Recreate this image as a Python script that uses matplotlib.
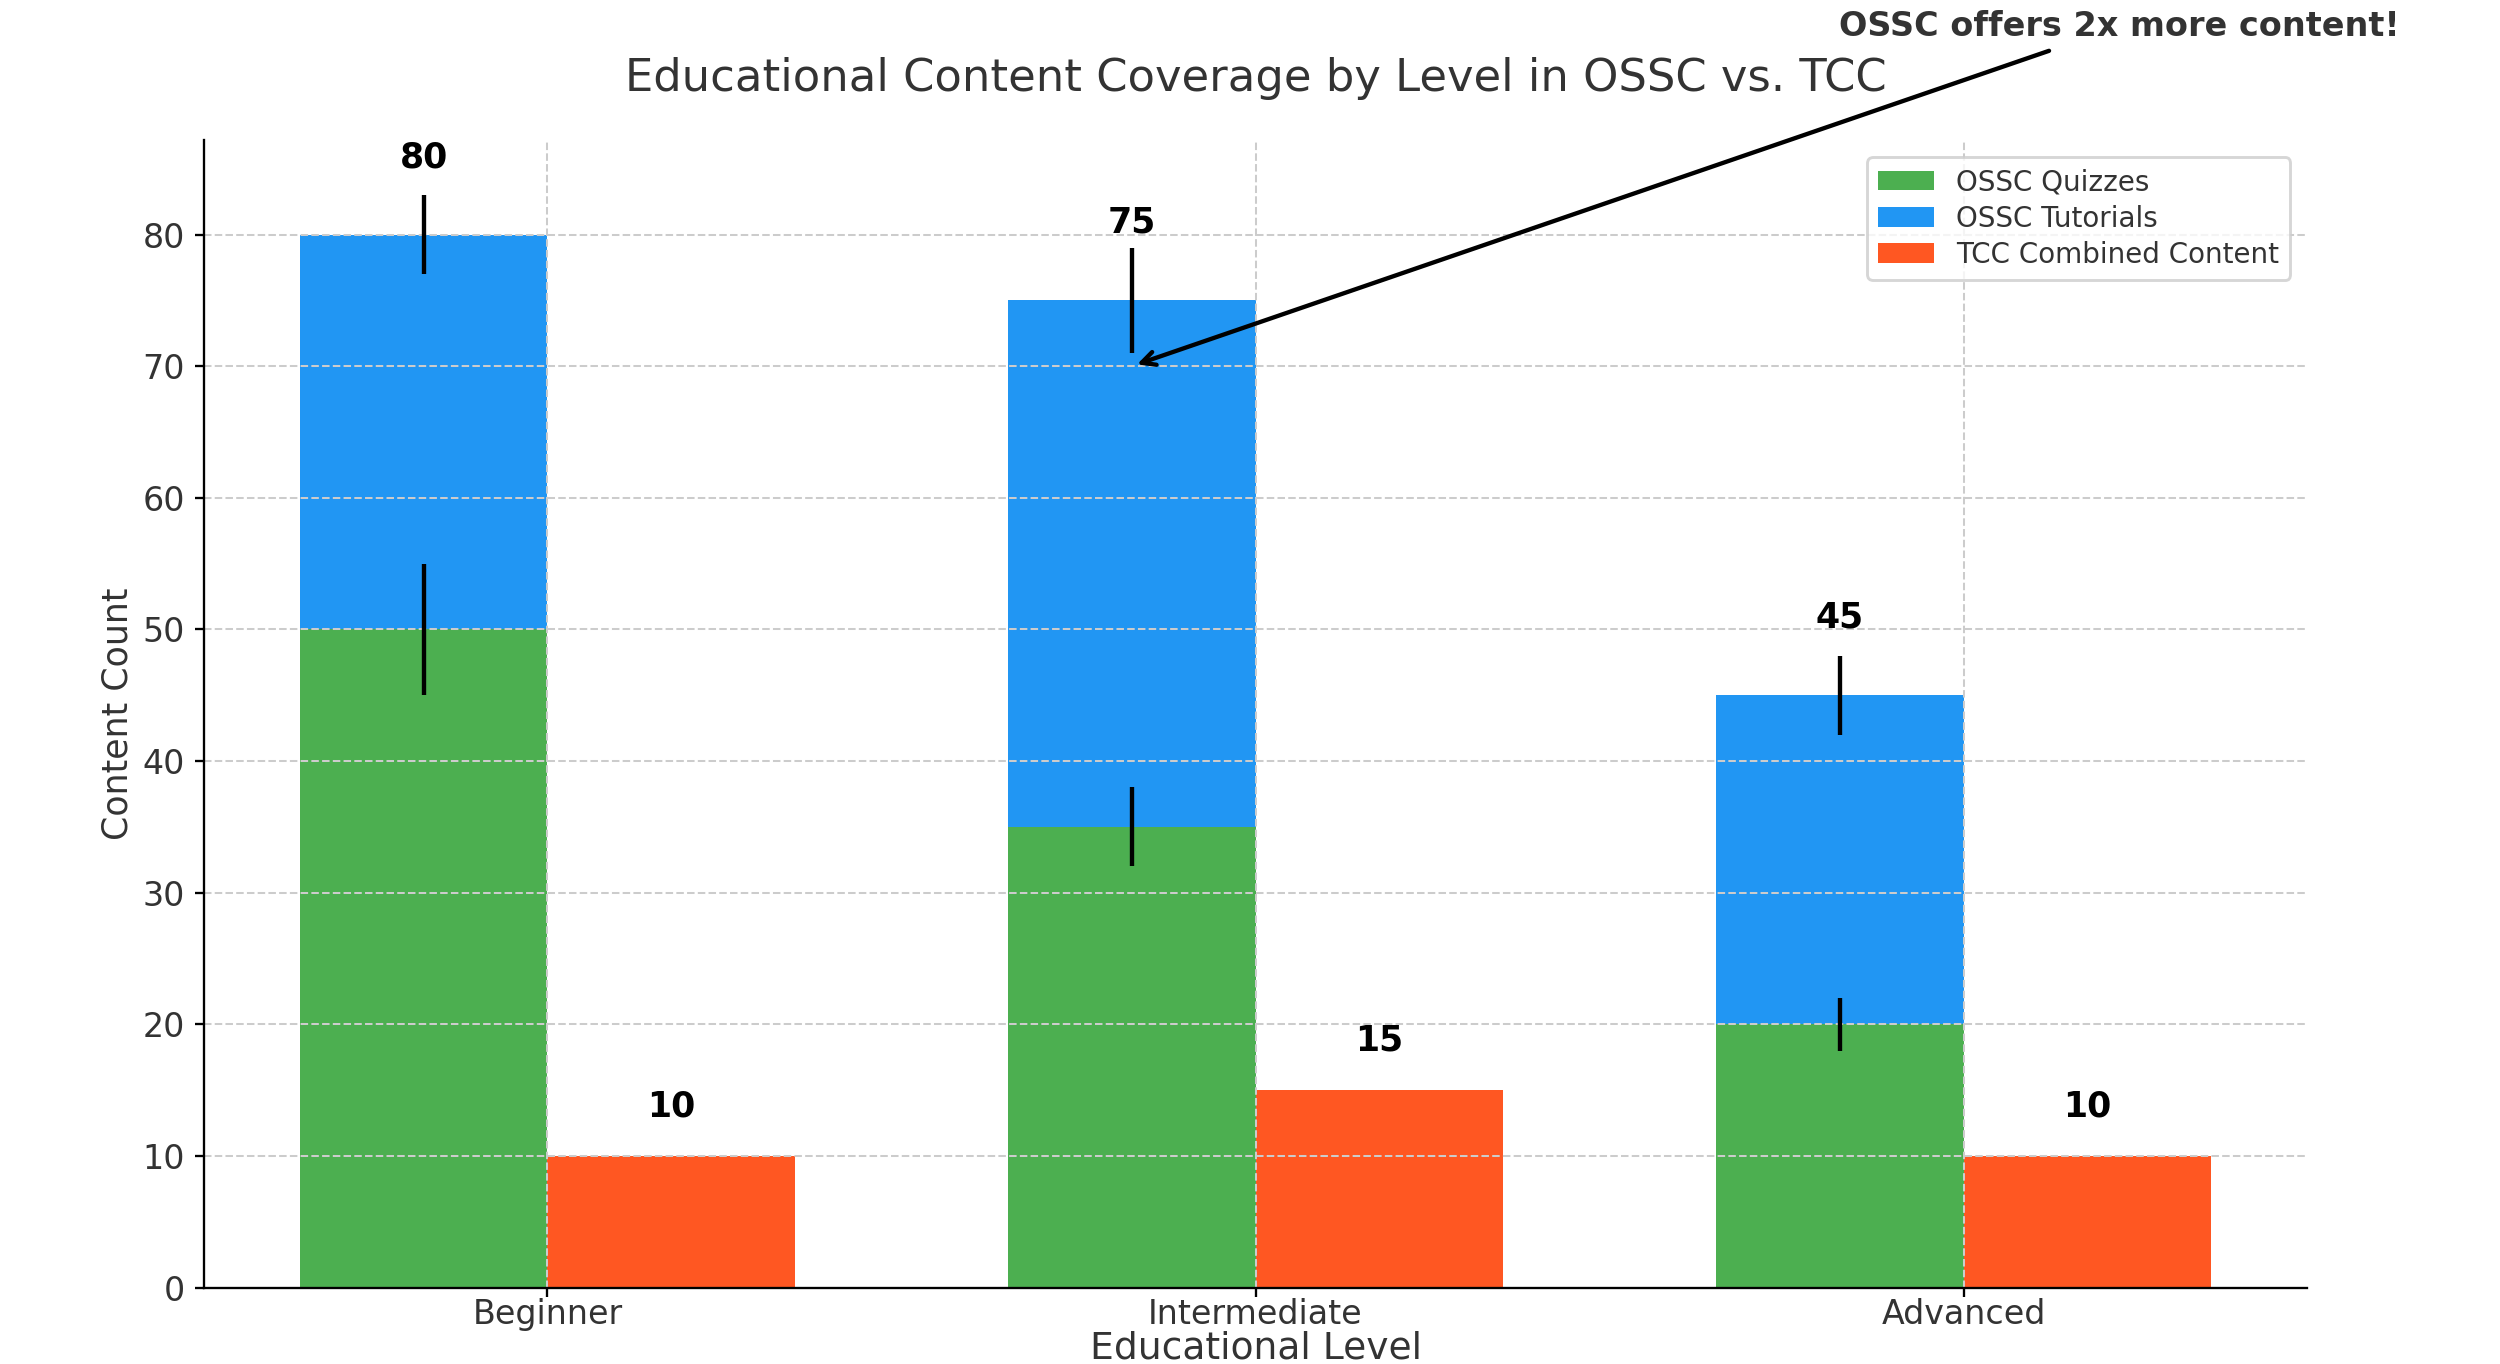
import numpy as np
import matplotlib
matplotlib.use('Agg')
import matplotlib.pyplot as plt

# Content counts per educational level
levels = ['Beginner', 'Intermediate', 'Advanced']
ossc_quizzes = [50, 35, 20]
ossc_tutorials = [30, 40, 25]
tcc_content = [10, 15, 10]

# Error margins
quiz_err = [5, 3, 2]
total_err = [3, 4, 3]

GREEN = '#4CAF50'
BLUE = '#2196F3'
ORANGE = '#FF5722'
TEXT = '#333333'


def main():
    fig = plt.figure(figsize=(12, 6.5472), dpi=2500 / 12)
    ax = fig.add_axes([0.0816, 0.056, 0.8412, 0.841])

    x = np.arange(len(levels))
    width = 0.35
    totals = [q + t for q, t in zip(ossc_quizzes, ossc_tutorials)]

    ax.bar(x - width / 2, ossc_quizzes, width, color=GREEN, label='OSSC Quizzes',
           yerr=quiz_err, error_kw=dict(elinewidth=1.5, ecolor='black'))
    ax.bar(x - width / 2, ossc_tutorials, width, bottom=ossc_quizzes, color=BLUE,
           label='OSSC Tutorials')
    ax.errorbar(x - width / 2, totals, yerr=total_err, fmt='none', ecolor='black',
                elinewidth=1.5)
    ax.bar(x + width / 2, tcc_content, width, color=ORANGE, label='TCC Combined Content')

    # value labels
    for xi, tot in zip(x, totals):
        ax.text(xi - width / 2, tot + 4.6, str(tot), ha='center', va='bottom',
                fontsize=12, fontweight='bold', color='black')
    for xi, v in zip(x, tcc_content):
        ax.text(xi + width / 2, v + 2.5, str(v), ha='center', va='bottom',
                fontsize=12, fontweight='bold', color='black')

    ax.annotate('OSSC offers 2x more content!', xy=(1 - width / 2, 70),
                xytext=(2.22, 95.8), ha='center', va='center',
                fontsize=11.6, fontweight='bold', color=TEXT,
                arrowprops=dict(arrowstyle='->', color='black', lw=1.5),
                annotation_clip=False)

    ax.set_title('Educational Content Coverage by Level in OSSC vs. TCC',
                 fontsize=15.5, color=TEXT, pad=17)
    ax.set_xlabel('Educational Level', fontsize=13, color=TEXT, labelpad=0)
    ax.set_ylabel('Content Count', fontsize=12, color=TEXT, labelpad=3)
    ax.set_xticks(x)
    ax.set_xticklabels(levels)
    ax.tick_params(labelsize=11.5, labelcolor=TEXT, length=3)
    ax.tick_params(axis='x', pad=0.5)

    ax.grid(True, linestyle='--', color='#cccccc', linewidth=0.7)
    ax.spines['top'].set_visible(False)
    ax.spines['right'].set_visible(False)

    leg = ax.legend(loc='upper right', fontsize=9.6, labelspacing=0.3,
                    borderaxespad=0.6)
    for t in leg.get_texts():
        t.set_color(TEXT)

    fig.savefig('out.png')


if __name__ == '__main__':
    main()
